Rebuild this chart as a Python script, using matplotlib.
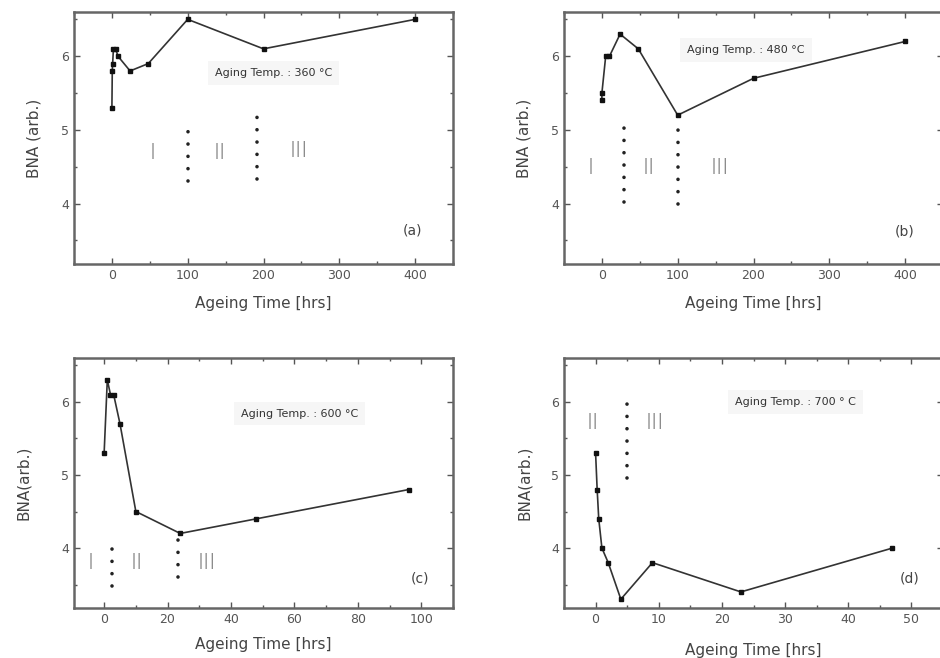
import matplotlib
matplotlib.use("Agg")
import matplotlib.pyplot as plt
from matplotlib.ticker import MultipleLocator

# ---- data ----
xa = [0, 0.5, 1, 2, 5, 8, 24, 48, 100, 200, 400]
ya = [5.3, 5.8, 5.9, 6.1, 6.1, 6.0, 5.8, 5.9, 6.5, 6.1, 6.5]

xb = [0, 0, 5, 10, 24, 48, 100, 200, 400]
yb = [5.4, 5.5, 6.0, 6.0, 6.3, 6.1, 5.2, 5.7, 6.2]

xc = [0, 1, 2, 3, 5, 10, 24, 48, 96]
yc = [5.3, 6.3, 6.1, 6.1, 5.7, 4.5, 4.2, 4.4, 4.8]

xd = [0, 0.25, 0.5, 1, 2, 4, 9, 23, 47]
yd = [5.3, 4.8, 4.4, 4.0, 3.8, 3.3, 3.8, 3.4, 4.0]

temps = ["360", "480", "600", "700"]
panel_tags = ["(a)", "(b)", "(c)", "(d)"]
ylabels = ["BNA (arb.)", "BNA (arb.)", "BNA(arb.)", "BNA(arb.)"]
xlabel = "Ageing Time [hrs]"

# region boundaries (dotted lines): x, ymin, ymax
bounds_a = [(100, 4.3, 5.13), (192, 4.33, 5.17)]
bounds_b = [(29, 4.02, 5.02), (101, 4.0, 5.02)]
bounds_c = [(2.6, 3.48, 4.14), (23.4, 3.61, 4.12)]
bounds_d = [(4.9, 4.96, 5.98)]

# region labels: text, x, y
regions_a = [("I", 54, 4.68), ("II", 142, 4.68), ("III", 246, 4.72)]
regions_b = [("I", -15, 4.48), ("II", 62, 4.48), ("III", 155, 4.48)]
regions_c = [("I", -4.2, 3.79), ("II", 10.3, 3.79), ("III", 32.2, 3.8)]
regions_d = [("II", -0.4, 5.71), ("III", 9.3, 5.71)]

W, H = 940, 658
fig = plt.figure(figsize=(W / 100, H / 100), dpi=100)

def box(l, t, r, b):
    return [l / W, 1 - b / H, (r - l) / W, (b - t) / H]

ax_a = fig.add_axes(box(74, 12, 453, 264))
ax_b = fig.add_axes(box(564, 12, 943, 264))
ax_c = fig.add_axes(box(74, 358, 453, 608))
ax_d = fig.add_axes(box(564, 358, 943, 608))

specs = [
    (ax_a, xa, ya, (-50, 450), 100, 50, bounds_a, regions_a),
    (ax_b, xb, yb, (-50, 450), 100, 50, bounds_b, regions_b),
    (ax_c, xc, yc, (-9.5, 110), 20, 10, bounds_c, regions_c),
    (ax_d, xd, yd, (-5, 55), 10, 5, bounds_d, regions_d),
]

temp_pos = [(213, 5.77), (190, 6.08), (61.7, 5.84), (31.6, 6.0)]
tag_pos = [(396, 3.63), (400, 3.62), (99.7, 3.58), (49.7, 3.58)]
xlabel_pad = [10, 10, 8, 12]
ylabel_pad = [14, 14, 22, 14]

gray = "#444444"
for i, (ax, x, y, xl, maj, mnr, bnds, regs) in enumerate(specs):
    ax.plot(x, y, color="#333333", lw=1.2, marker="s", ms=3.5,
            mfc="#111111", mec="#111111")
    ax.set_xlim(*xl)
    ax.set_ylim(3.18, 6.6)
    ax.xaxis.set_major_locator(MultipleLocator(maj))
    ax.xaxis.set_minor_locator(MultipleLocator(mnr))
    ax.yaxis.set_major_locator(MultipleLocator(1))
    ax.yaxis.set_minor_locator(MultipleLocator(0.5))
    ax.tick_params(which="both", direction="in", top=True, right=True,
                   color="#555555", labelcolor="#555555", labelsize=9)
    ax.tick_params(which="major", length=4, width=1)
    ax.tick_params(which="minor", length=2.5, width=1)
    for s in ax.spines.values():
        s.set_color("#666666")
        s.set_linewidth(1.8)
    ax.set_xlabel(xlabel, fontsize=11, color=gray, labelpad=xlabel_pad[i])
    ax.set_ylabel(ylabels[i], fontsize=11, color=gray, labelpad=ylabel_pad[i])
    for (bx, y0, y1) in bnds:
        ax.plot([bx, bx], [y0, y1], color="#222222", lw=2.6,
                linestyle=(0, (0.01, 3.4)), dash_capstyle="round")
    for (t, tx, ty) in regs:
        ax.text(tx, ty, t, fontsize=15, color="#666666", ha="center",
                va="center", fontweight="light")
    tx, ty = temp_pos[i]
    deg = "°C" if i != 3 else "° C"
    ax.text(tx, ty, f"Aging Temp. : {temps[i]} {deg}", fontsize=8,
            color="#333333", ha="center", va="center",
            bbox=dict(facecolor="#f6f6f6", edgecolor="none", pad=5))
    gx, gy = tag_pos[i]
    ax.text(gx, gy, panel_tags[i], fontsize=10, color="#444444",
            ha="center", va="center")

fig.savefig("out.png", dpi=100)
